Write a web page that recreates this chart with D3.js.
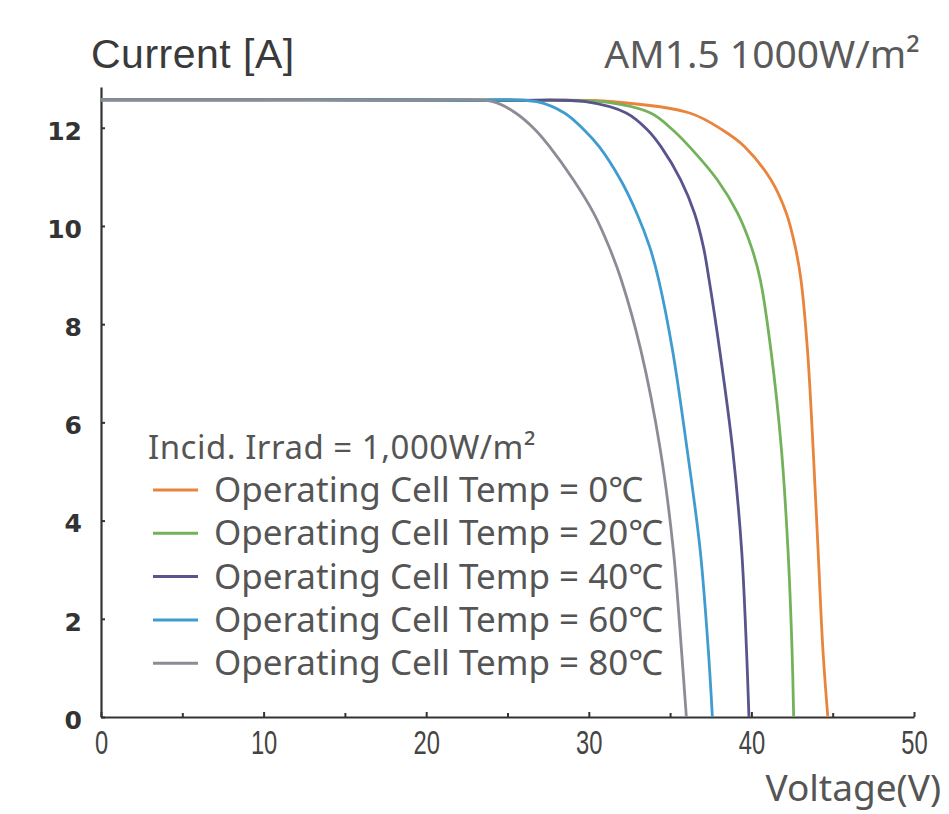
<!DOCTYPE html>
<html>
<head>
<meta charset="utf-8">
<script src="https://d3js.org/d3.v7.min.js"></script>
<style>
  body { margin: 0; background: #fff; }
  svg { display: block; }
</style>
</head>
<body>
<svg id="chart" width="949" height="814"></svg>
<script>
// current levels shared by all curves (A)
var currentLevels = [12.57, 12.56, 12.53, 12.30, 11.96, 11.61, 10.94, 10.26, 9.57, 8.90, 7.47, 5.44, 3.40, 1.36, 0];
// voltage reached by each curve at those current levels (V)
var volts0  = [0, 26.0, 31.5, 36.2, 38.2, 39.6, 41.2, 42.15, 42.7, 43.05, 43.45, 43.8, 44.1, 44.4, 44.7];
var volts20 = [0, 25.5, 30.8, 33.8, 35.15, 36.2, 37.9, 39.15, 40.0, 40.55, 41.2, 41.85, 42.25, 42.5, 42.6];
var volts40 = [0, 25.0, 29.8, 32.3, 33.6, 34.45, 35.65, 36.5, 37.05, 37.4, 38.05, 38.85, 39.4, 39.7, 39.85];
var volts60 = [0, 22.0, 26.8, 28.5, 29.7, 30.65, 31.95, 32.95, 33.75, 34.3, 35.15, 36.05, 36.85, 37.35, 37.6];
var volts80 = [0, 20.0, 24.1, 25.5, 26.7, 27.6, 29.05, 30.3, 31.25, 32.0, 33.2, 34.4, 35.2, 35.7, 36.0];

var cellTemps = ["0℃", "20℃", "40℃", "60℃", "80℃"];
var colors = ["#e9843c", "#73b25a", "#58548c", "#3f9cd0", "#8d8c96"];
var xTicks = [0, 10, 20, 30, 40, 50];
var xMinorTicks = [5, 15, 25, 35, 45];
var yTicks = [0, 2, 4, 6, 8, 10, 12];

var series = [volts0, volts20, volts40, volts60, volts80].map(function(v, k) {
  return {
    temp: cellTemps[k],
    color: colors[k],
    points: v.map(function(d, i) { return {v: d, i: currentLevels[i]}; })
  };
});

var svg = d3.select("#chart");

var x = d3.scaleLinear().domain([0, 50]).range([101, 914]);
var y = d3.scaleLinear().domain([0, 12.83]).range([717, 87]);

//assi
var xAxis = svg.append("g")
  .attr("transform", "translate(0,717)")
  .call(d3.axisBottom(x).tickValues(xTicks).tickSize(-5).tickSizeOuter(0).tickPadding(14));
xAxis.select(".domain").attr("stroke", "#333").attr("stroke-width", 2.2);
xAxis.selectAll(".tick line").attr("stroke", "#333").attr("stroke-width", 2);
xAxis.selectAll("text")
  .style("font-family", "'Liberation Sans', Arial, sans-serif")
  .style("font-size", "33px")
  .attr("transform", "scale(0.72,1)")
  .attr("fill", "#444");

svg.append("g")
  .attr("transform", "translate(0,717)")
  .call(d3.axisBottom(x).tickValues(xMinorTicks).tickSize(-4).tickFormat(""))
  .call(function(g) { g.select(".domain").remove(); })
  .selectAll("line").attr("stroke", "#333").attr("stroke-width", 2);

var yAxis = svg.append("g")
  .attr("transform", "translate(101,0)")
  .call(d3.axisLeft(y).tickValues(yTicks).tickSize(-4).tickSizeOuter(0).tickPadding(19));
yAxis.select(".domain").attr("stroke", "#333").attr("stroke-width", 2.2);
yAxis.selectAll(".tick line").attr("stroke", "#333").attr("stroke-width", 2);
yAxis.selectAll("text")
  .style("font-family", "'DejaVu Sans', sans-serif")
  .style("font-weight", "bold")
  .style("font-size", "25px")
  .attr("fill", "#333")
  .attr("dy", "0.45em");

//curve
var line = d3.line()
  .x(function(d) { return x(d.v); })
  .y(function(d) { return y(d.i); })
  .curve(d3.curveCatmullRom.alpha(0.5));

svg.append("g").selectAll("path")
  .data(series)
  .enter().append("path")
  .attr("d", function(d) { return line(d.points); })
  .attr("fill", "none")
  .attr("stroke", function(d) { return d.color; })
  .attr("stroke-width", 2.8);

//titoli
svg.append("text")
  .attr("x", 91).attr("y", 68)
  .text("Current [A]")
  .style("font-family", "'Liberation Sans', Arial, sans-serif")
  .style("font-size", "41px")
  .style("letter-spacing", "0.5px")
  .attr("fill", "#3a3a3a");

svg.append("text")
  .attr("x", 920).attr("y", 68)
  .attr("text-anchor", "end")
  .text("AM1.5 1000W/m²")
  .style("font-family", "'Noto Sans', sans-serif")
  .style("font-size", "39px")
  .attr("fill", "#5a5a5a");

svg.append("text")
  .attr("x", 941).attr("y", 801)
  .attr("text-anchor", "end")
  .text("Voltage(V)")
  .style("font-family", "'Noto Sans', sans-serif")
  .style("font-size", "37px")
  .attr("fill", "#555");

//legenda
svg.append("text")
  .attr("x", 148).attr("y", 459)
  .text("Incid. Irrad = 1,000W/m²")
  .style("font-family", "'Noto Sans', sans-serif")
  .style("font-size", "33px")
  .style("letter-spacing", "0.5px")
  .attr("fill", "#555");

var legend = svg.append("g").selectAll("g")
  .data(series)
  .enter().append("g")
  .attr("transform", function(d, i) { return "translate(0," + (490 + i * 43.3) + ")"; });

legend.append("line")
  .attr("x1", 153).attr("x2", 198)
  .attr("y1", 0).attr("y2", 0)
  .attr("stroke", function(d) { return d.color; })
  .attr("stroke-width", 3);

legend.append("text")
  .attr("x", 214).attr("y", 12)
  .text(function(d) { return "Operating Cell Temp = " + d.temp; })
  .style("font-family", "'Noto Sans', sans-serif")
  .style("font-size", "35px")
  .attr("fill", "#555");
</script>
</body>
</html>
